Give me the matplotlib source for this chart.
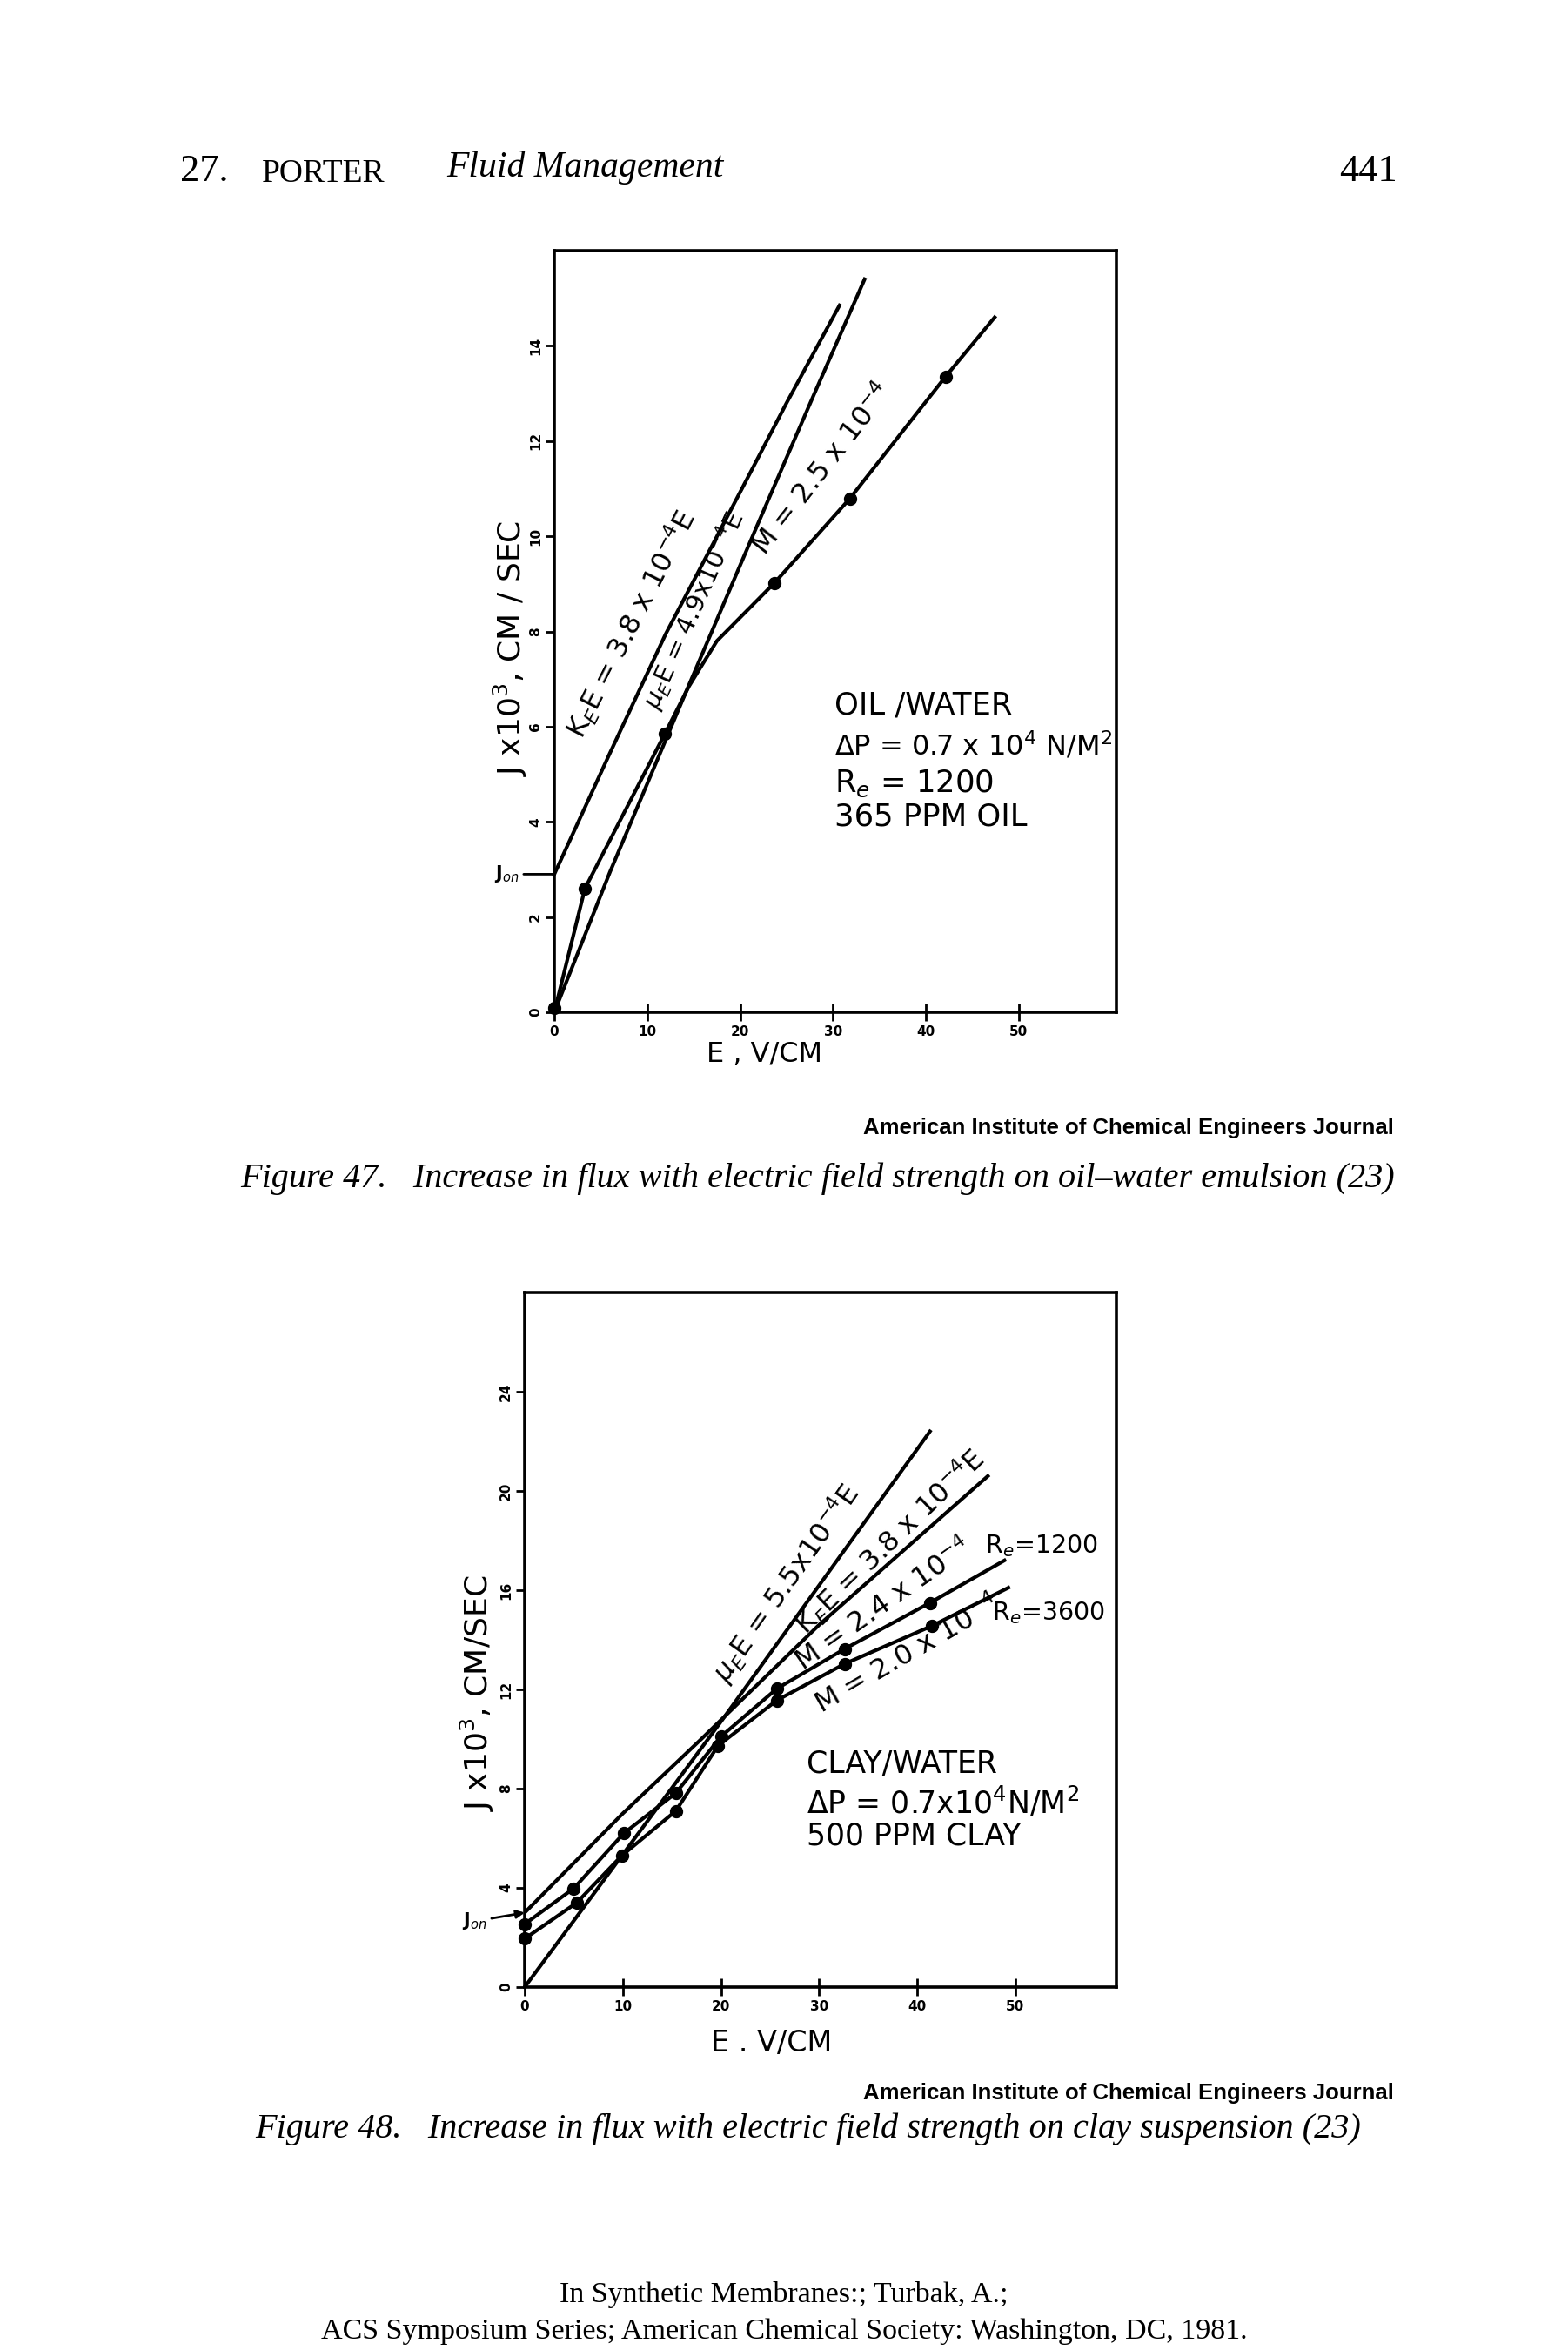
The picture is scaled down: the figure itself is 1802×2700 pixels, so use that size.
import matplotlib
matplotlib.use("Agg")
import matplotlib.pyplot as plt

# ---------------- data: Figure 47 (oil/water) ----------------
oil_K_E = [0, 6, 12, 20.2, 25, 30.7]
oil_K_J = [2.9, 5.45, 7.95, 11.0, 12.8, 14.85]
oil_mu_E = [0, 6, 14, 22, 28, 33.4]
oil_mu_J = [0, 2.95, 6.65, 10.3, 13.0, 15.4]
oil_M_curve_E = [0, 3.3, 11.9, 14.5, 17.5, 23.7, 31.8, 42.1, 47.4]
oil_M_curve_J = [0, 2.6, 5.85, 6.85, 7.8, 9.02, 10.79, 13.35, 14.6]
oil_pts_E = [0, 3.3, 11.9, 23.7, 31.8, 42.1]
oil_pts_J = [0.1, 2.6, 5.85, 9.02, 10.79, 13.35]
oil_xticks = [0, 10, 20, 30, 40, 50]
oil_yticks = [0, 2, 4, 6, 8, 10, 12, 14]
oil_Jon = 2.9

# ---------------- data: Figure 48 (clay/water) ----------------
clay_mu_E = [0, 20, 41.3]
clay_mu_J = [0, 10.7, 22.4]
clay_K_E = [0, 10, 18, 30, 47.2]
clay_K_J = [3.0, 7.0, 10.0, 14.6, 20.6]
clay_1200_E = [0, 5.0, 10.1, 15.4, 20, 25.7, 32.6, 41.3, 48.9]
clay_1200_J = [2.54, 3.98, 6.2, 7.82, 10.1, 12.03, 13.63, 15.49, 17.2]
clay_1200_ptsE = [0, 5.0, 10.1, 15.4, 20, 25.7, 32.6, 41.3]
clay_1200_ptsJ = [2.54, 3.98, 6.2, 7.82, 10.1, 12.03, 13.63, 15.49]
clay_3600_E = [0, 5.3, 9.9, 15.4, 19.7, 25.7, 32.6, 41.5, 49.3]
clay_3600_J = [1.95, 3.4, 5.3, 7.1, 9.73, 11.56, 13.03, 14.56, 16.1]
clay_3600_ptsE = [0, 5.3, 9.9, 15.4, 19.7, 25.7, 32.6, 41.5]
clay_3600_ptsJ = [1.95, 3.4, 5.3, 7.1, 9.73, 11.56, 13.03, 14.56]
clay_xticks = [0, 10, 20, 30, 40, 50]
clay_yticks = [0, 4, 8, 12, 16, 20, 24]
clay_Jon = 3.0

W, H = 1802, 2700
fig = plt.figure(figsize=(W / 100, H / 100), dpi=100)
fig.patch.set_facecolor("white")

def fx(px):
    return px / W

def fy(py):
    return 1 - py / H

SANS = "DejaVu Sans"
SERIF = "Liberation Serif"
LW = 3.0
MS = 10

def style_axes(ax, xlim, ylim, xticks, yticks):
    ax.set_xlim(*xlim)
    ax.set_ylim(*ylim)
    for s in ax.spines.values():
        s.set_linewidth(2.6)
        s.set_color("black")
    ax.set_xticks(xticks)
    ax.set_yticks(yticks)
    ax.set_xticklabels([str(t) for t in xticks], fontsize=11, fontweight="bold", family=SANS)
    ax.set_yticklabels([str(t) for t in yticks], fontsize=11, fontweight="bold", family=SANS,
                       rotation=90, va="center")
    ax.tick_params(axis="x", direction="inout", length=14, width=2, pad=4)
    ax.tick_params(axis="y", direction="out", length=7, width=2, pad=3)

# ---------------- Figure 47 axes ----------------
ax1 = fig.add_axes([fx(637), fy(1163), fx(1283) - fx(637), fy(288) - fy(1163)])
style_axes(ax1, (0, 60.5), (0, 16), oil_xticks, oil_yticks)
ax1.plot(oil_K_E, oil_K_J, color="black", lw=LW, clip_on=False)
ax1.plot(oil_mu_E, oil_mu_J, color="black", lw=LW, clip_on=False)
ax1.plot(oil_M_curve_E, oil_M_curve_J, color="black", lw=LW, clip_on=False)
ax1.plot(oil_pts_E, oil_pts_J, "o", color="black", ms=MS, clip_on=False)

ax1.text(8.3, 8.15, "K$_E$E = 3.8 x 10$^{-4}$E", rotation=63, rotation_mode="anchor",
         ha="center", va="center", fontsize=23, family=SANS)
ax1.text(15.0, 8.45, "$\\mu_E$E = 4.9x10$^{-4}$E", rotation=66, rotation_mode="anchor",
         ha="center", va="center", fontsize=21, family=SANS)
ax1.text(28.9, 11.4, "M = 2.5 x 10$^{-4}$", rotation=52, rotation_mode="anchor",
         ha="center", va="center", fontsize=23, family=SANS)

oil_box = ["OIL /WATER", "ΔP = 0.7 x 10$^4$ N/M$^2$", "R$_e$ = 1200", "365 PPM OIL"]
oil_box_y = [6.45, 5.6, 4.8, 4.1]
oil_box_fs = [25.5, 23, 25.5, 25.5]
for t, yv, fs in zip(oil_box, oil_box_y, oil_box_fs):
    ax1.text(30.2, yv, t, ha="left", va="center", fontsize=fs, family=SANS)

ax1.annotate("J$_{on}$", xy=(0, oil_Jon), xytext=(-0.085, oil_Jon),
             textcoords=ax1.get_yaxis_transform(), xycoords="data",
             ha="center", va="center", fontsize=15, fontweight="bold", family=SANS,
             arrowprops=dict(arrowstyle="-", lw=2, color="black", shrinkA=2, shrinkB=0),
             annotation_clip=False)

fig.text(fx(586), fy(745), "J x10$^3$, CM / SEC", rotation=90, ha="center", va="center",
         fontsize=26, family=SANS)
fig.text(fx(879), fy(1212), "E , V/CM", ha="center", va="center", fontsize=23, family=SANS)

# ---------------- Figure 48 axes ----------------
ax2 = fig.add_axes([fx(603), fy(2283), fx(1283) - fx(603), fy(1485) - fy(2283)])
style_axes(ax2, (0, 60.3), (0, 28), clay_xticks, clay_yticks)
ax2.plot(clay_mu_E, clay_mu_J, color="black", lw=LW)
ax2.plot(clay_K_E, clay_K_J, color="black", lw=LW)
ax2.plot(clay_1200_E, clay_1200_J, color="black", lw=LW)
ax2.plot(clay_3600_E, clay_3600_J, color="black", lw=LW)
ax2.plot(clay_1200_ptsE, clay_1200_ptsJ, "o", color="black", ms=MS, clip_on=False)
ax2.plot(clay_3600_ptsE, clay_3600_ptsJ, "o", color="black", ms=MS, clip_on=False)

ax2.text(26.7, 16.3, "$\\mu_E$E = 5.5x10$^{-4}$E", rotation=55, rotation_mode="anchor",
         ha="center", va="center", fontsize=23, family=SANS)
ax2.text(37.2, 17.95, "K$_E$E = 3.8 x 10$^{-4}$E", rotation=44, rotation_mode="anchor",
         ha="center", va="center", fontsize=23, family=SANS)
ax2.text(36.6, 15.4, "M = 2.4 x 10$^{-4}$", rotation=35, rotation_mode="anchor",
         ha="center", va="center", fontsize=23, family=SANS)
ax2.text(39.0, 13.4, "M = 2.0 x 10$^{-4}$", rotation=30, rotation_mode="anchor",
         ha="center", va="center", fontsize=23, family=SANS)
ax2.text(46.9, 17.8, "R$_e$=1200", ha="left", va="center", fontsize=20.5, family=SANS)
ax2.text(47.6, 15.1, "R$_e$=3600", ha="left", va="center", fontsize=20.5, family=SANS)

clay_box = ["CLAY/WATER", "ΔP = 0.7x10$^4$N/M$^2$", "500 PPM CLAY"]
clay_box_y = [9.0, 7.45, 6.1]
for t, yv in zip(clay_box, clay_box_y):
    ax2.text(28.7, yv, t, ha="left", va="center", fontsize=25, family=SANS)

ax2.annotate("J$_{on}$", xy=(0, clay_Jon), xytext=(-0.085, clay_Jon - 0.35),
             textcoords=ax2.get_yaxis_transform(), xycoords="data",
             ha="center", va="center", fontsize=15, fontweight="bold", family=SANS,
             arrowprops=dict(arrowstyle="-|>", lw=2, color="black", shrinkA=2, shrinkB=0,
                             mutation_scale=14),
             annotation_clip=False)

fig.text(fx(548), fy(1945), "J x10$^3$, CM/SEC", rotation=90, ha="center", va="center",
         fontsize=26, family=SANS)
fig.text(fx(887), fy(2348), "E . V/CM", ha="center", va="center", fontsize=24, family=SANS)

# ---------------- page text ----------------
fig.text(fx(207), fy(197), "27.", ha="left", va="center", fontsize=32, family=SERIF)
fig.text(fx(301), fy(200), "PORTER", ha="left", va="center", fontsize=27, family=SERIF)
fig.text(fx(513), fy(193), "Fluid Management", ha="left", va="center", fontsize=30,
         family=SERIF, style="italic")
fig.text(fx(1606), fy(197), "441", ha="right", va="center", fontsize=32, family=SERIF)

AICHE = "American Institute of Chemical Engineers Journal"
fig.text(fx(1602), fy(1296), AICHE, ha="right", va="center", fontsize=18.5,
         family="Liberation Sans", fontweight="bold")
fig.text(fx(276), fy(1354),
         "Figure 47.   Increase in flux with electric field strength on oil\u2013water emulsion (23)",
         ha="left", va="center", fontsize=29, family=SERIF, style="italic")
fig.text(fx(1602), fy(2405), AICHE, ha="right", va="center", fontsize=18.5,
         family="Liberation Sans", fontweight="bold")
fig.text(fx(293), fy(2446),
         "Figure 48.   Increase in flux with electric field strength on clay suspension (23)",
         ha="left", va="center", fontsize=29, family=SERIF, style="italic")

fig.text(fx(901), fy(2636), "In Synthetic Membranes:; Turbak, A.;", ha="center", va="center",
         fontsize=24.5, family=SERIF)
fig.text(fx(901), fy(2679), "ACS Symposium Series; American Chemical Society: Washington, DC, 1981.",
         ha="center", va="center", fontsize=24.5, family=SERIF)

fig.savefig("out.png", dpi=100, facecolor="white")
